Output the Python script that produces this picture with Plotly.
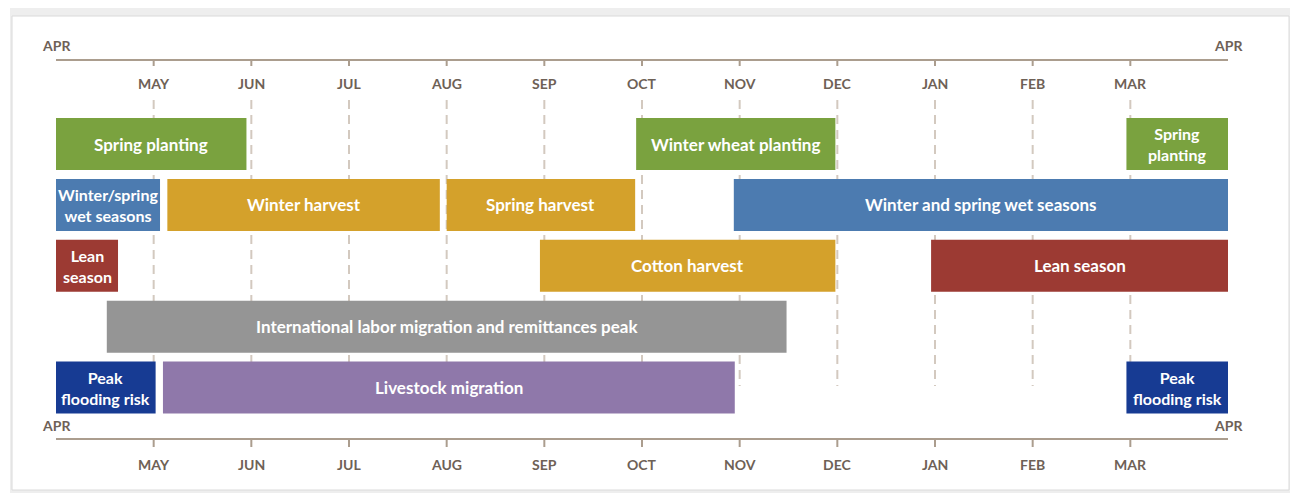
import plotly.graph_objects as go

# ---------------- data ----------------
month_labels = ["MAY", "JUN", "JUL", "AUG", "SEP", "OCT", "NOV", "DEC", "JAN", "FEB", "MAR"]
month_positions = [1, 2, 3, 4, 5, 6, 7, 8, 9, 10, 11]
edge_label = "APR"
edge_positions = [0, 12]

activity_labels = [
    "Spring planting", "Winter wheat planting", "Spring<br>planting",
    "Winter/spring<br>wet seasons", "Winter harvest", "Spring harvest", "Winter and spring wet seasons",
    "Lean<br>season", "Cotton harvest", "Lean season",
    "International labor migration and remittances peak",
    "Peak<br>flooding risk", "Livestock migration", "Peak<br>flooding risk",
]
activity_rows = [0, 0, 0, 1, 1, 1, 1, 2, 2, 2, 3, 4, 4, 4]
activity_start = [0.0, 5.94, 10.96, 0.0, 1.14, 4.0, 6.94, 0.0, 4.955, 8.96, 0.52, 0.0, 1.095, 10.96]
activity_end = [1.95, 7.98, 12.0, 1.065, 3.93, 5.93, 12.0, 0.635, 7.98, 12.0, 7.48, 1.02, 6.95, 12.0]
activity_kind = ["plant", "plant", "plant", "wet", "harvest", "harvest", "wet",
                 "lean", "harvest", "lean", "labor", "flood", "livestock", "flood"]

kind_colors = {
    "plant": "#7aa23f",
    "wet": "#4c7bb0",
    "harvest": "#d4a12b",
    "lean": "#9c3a33",
    "labor": "#959595",
    "flood": "#173b93",
    "livestock": "#8f78aa",
}

# ---------------- layout geometry ----------------
OFF = 8                      # page body margin
W, H = 1290, 486             # figure size (page 1298x494 minus body margin)
ML, MR = 56 - OFF, 70
PLOT_W = W - ML - MR
ROW0_PX, ROW_STEP_PX = 144.0 - OFF, 60.9
BAR_W = 52 / ROW_STEP_PX

def py(p):
    """page pixel (from top) -> paper y"""
    return 1 - (p - OFF) / H

def px(p):
    """page pixel (from left) -> paper x (plot-domain based)"""
    return ((p - OFF) - ML) / PLOT_W

AX_COLOR = "#ab9d8e"
LBL_COLOR = "#6e6156"
GRID_COLOR = "#d3c9bf"
FONT = "Lato"

fig = go.Figure()

for lab, r, s, e, k in zip(activity_labels, activity_rows, activity_start, activity_end, activity_kind):
    fig.add_trace(go.Bar(
        y=[r], x=[e - s], base=[s], orientation="h", width=BAR_W,
        marker=dict(color=kind_colors[k], line=dict(width=0)),
        hoverinfo="skip", showlegend=False,
    ))
    two_line = "<br>" in lab
    fig.add_annotation(
        x=(s + e) / 2, y=r, xref="x", yref="y", text=lab, showarrow=False,
        font=dict(family=FONT, size=16 if two_line else 17, color="white", weight="bold"),
        align="center", borderpad=0,
    )

shapes = []
# outer frame
shapes.append(dict(type="rect", xref="paper", yref="paper", x0=px(10), x1=px(1291), y0=py(493), y1=py(5),
                   fillcolor="#eeeeee", line=dict(width=0), layer="below"))
shapes.append(dict(type="rect", xref="paper", yref="paper", x0=px(12), x1=px(1289), y0=py(490), y1=py(16),
                   fillcolor="white", line=dict(color="#dadada", width=1), layer="below"))
# dashed month lines
for m in month_positions:
    shapes.append(dict(type="line", xref="x", yref="paper", x0=m, x1=m, y0=py(100), y1=py(386),
                       line=dict(color=GRID_COLOR, width=2, dash="9px,6px"), layer="below"))
# axis lines
for ypx in (60, 439):
    shapes.append(dict(type="line", xref="x", yref="paper", x0=edge_positions[0], x1=edge_positions[1],
                       y0=py(ypx), y1=py(ypx), line=dict(color=AX_COLOR, width=2), layer="below"))
# ticks
for m in month_positions:
    shapes.append(dict(type="line", xref="x", yref="paper", x0=m, x1=m, y0=py(60), y1=py(66),
                       line=dict(color=AX_COLOR, width=2), layer="below"))
    shapes.append(dict(type="line", xref="x", yref="paper", x0=m, x1=m, y0=py(439), y1=py(447),
                       line=dict(color=AX_COLOR, width=2), layer="below"))

lblfont = dict(family=FONT, size=14, color=LBL_COLOR, weight="bold")
for m, lab in zip(month_positions, month_labels):
    for ypx in (84, 464):
        fig.add_annotation(x=m, y=py(ypx), xref="x", yref="paper", text=lab, showarrow=False,
                           font=lblfont, xanchor="center", yanchor="middle")
for m in edge_positions:
    for ypx in (45, 425):
        fig.add_annotation(x=m, y=py(ypx), xref="x", yref="paper", text=edge_label, showarrow=False,
                           font=lblfont, xanchor="center", yanchor="middle")

fig.update_layout(
    width=W, height=H,
    margin=dict(l=ML, r=MR, t=0, b=0, pad=0),
    paper_bgcolor="white", plot_bgcolor="rgba(0,0,0,0)",
    barmode="overlay",
    shapes=shapes,
    xaxis=dict(range=[0, 12], visible=False, fixedrange=True),
    yaxis=dict(range=[(H - ROW0_PX) / ROW_STEP_PX, -ROW0_PX / ROW_STEP_PX], visible=False, fixedrange=True),
)

fig.write_html("out.html")
